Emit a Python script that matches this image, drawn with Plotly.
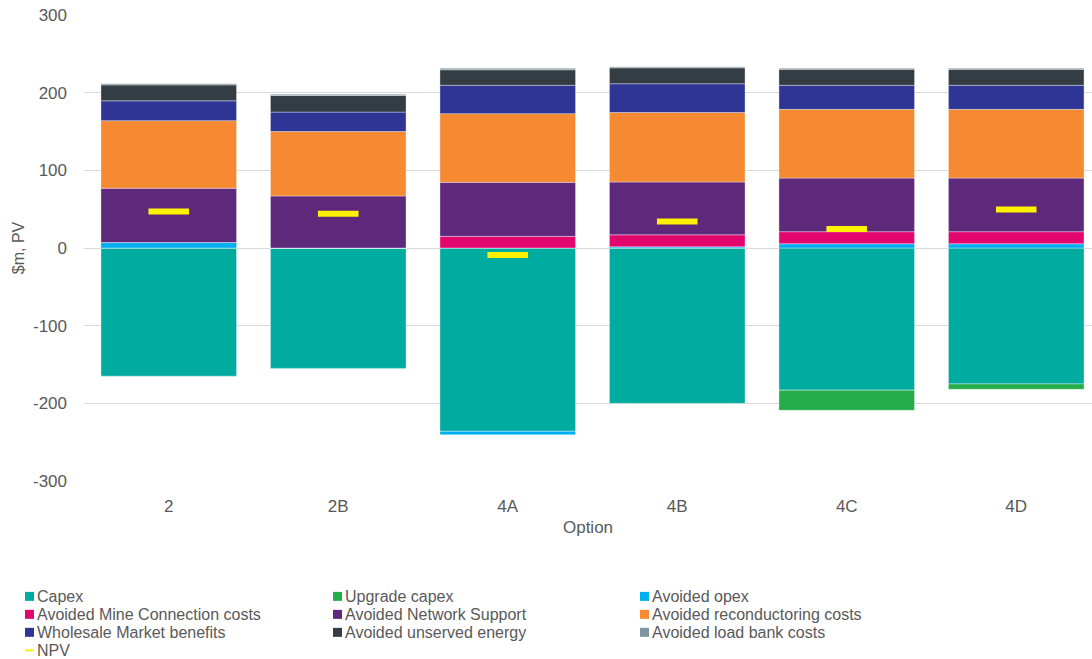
import plotly.graph_objects as go

options = ["2", "2B", "4A", "4B", "4C", "4D"]
capex = [-165, -155, -236, -200, -183, -175]
upgrade_capex = [0, 0, 0, 0, -26, -7]
avoided_opex = [7, 0, -4.5, 1.5, 5.5, 5.5]
mine_connection = [0, 0, 15, 15.5, 15.5, 15.5]
network_support = [70, 67, 69.5, 68, 69, 69]
reconductoring = [87, 83, 88.5, 89.5, 88.5, 88.5]
wholesale = [25.5, 25, 36.5, 37, 31, 31]
unserved_energy = [20.5, 21.5, 20, 20.5, 20.5, 20.5]
load_bank = [1.5, 1.5, 2, 1.5, 1.5, 1.5]
npv = [47, 44, -9, 34, 24.5, 49.5]

y_tick_values = [-300, -200, -100, 0, 100, 200, 300]
y_tick_labels = ["-300", "-200", "-100", "0", "100", "200", "300"]

series = [
    ("Capex", capex, "#00AC9F"),
    ("Upgrade capex", upgrade_capex, "#25AD4A"),
    ("Avoided opex", avoided_opex, "#00AEEF"),
    ("Avoided Mine Connection costs", mine_connection, "#E3066F"),
    ("Avoided Network Support", network_support, "#5E287B"),
    ("Avoided reconductoring costs", reconductoring, "#F58A32"),
    ("Wholesale Market benefits", wholesale, "#2E3595"),
    ("Avoided unserved energy", unserved_energy, "#333D43"),
    ("Avoided load bank costs", load_bank, "#7E95A0"),
]
npv_color = "#FFF200"

W, H = 1092, 659
ML, MR, MT, MB = 84, 0, 15, 177.5
PW, PH = W - ML - MR, H - MT - MB


def px_x(p):
    return (p - ML) / PW


def px_y(p):
    return (H - MB - p) / PH


fig = go.Figure()
for name, vals, col in series:
    fig.add_trace(go.Bar(
        x=options, y=vals, name=name,
        marker=dict(color=col, line=dict(color="rgba(255,255,255,0.45)", width=0.8)),
    ))

fig.add_trace(go.Scatter(
    x=options, y=npv, name="NPV", mode="markers",
    marker=dict(symbol="line-ew", size=29, color=npv_color,
                line=dict(color=npv_color, width=6)),
))

font_family = "Liberation Sans, Arial, sans-serif"
text_color = "#595959"

# manual legend laid out in three columns like the original
legend_items = [(name, col) for name, _, col in series] + [("NPV", npv_color)]
col_x = [25, 333, 640]
row_y = [597, 615, 633, 651]
shapes = []
annotations = []
for i, (name, col) in enumerate(legend_items):
    r, c = divmod(i, 3)
    sx, sy = col_x[c], row_y[r]
    if name == "NPV":
        shapes.append(dict(type="line", xref="paper", yref="paper",
                           x0=px_x(sx), x1=px_x(sx + 9), y0=px_y(sy), y1=px_y(sy),
                           line=dict(color=col, width=2)))
    else:
        shapes.append(dict(type="rect", xref="paper", yref="paper",
                           x0=px_x(sx), x1=px_x(sx + 9),
                           y0=px_y(sy + 4.5), y1=px_y(sy - 4.5),
                           fillcolor=col, line=dict(width=0)))
    annotations.append(dict(text=name, xref="paper", yref="paper",
                            x=px_x(sx + 10), y=px_y(sy), xanchor="left", yanchor="middle",
                            showarrow=False, font=dict(size=16, color=text_color, family=font_family)))

fig.update_layout(
    width=W, height=H,
    margin=dict(l=ML, r=MR, t=MT, b=MB),
    barmode="relative",
    bargap=0.2,
    plot_bgcolor="white",
    paper_bgcolor="white",
    font=dict(family=font_family, size=17, color=text_color),
    showlegend=False,
    shapes=shapes,
    annotations=annotations,
    xaxis=dict(
        range=[-0.5, 5.447],
        title=dict(text="Option", font=dict(size=17, color=text_color), standoff=6),
        showgrid=False, zeroline=False, showline=False,
        tickfont=dict(size=17, color=text_color),
        ticks="", ticklabelstandoff=13,
    ),
    yaxis=dict(
        range=[-300, 300],
        tickmode="array", tickvals=y_tick_values, ticktext=y_tick_labels,
        title=dict(text="$m, PV", font=dict(size=16, color=text_color), standoff=4),
        showgrid=True, gridcolor="#D9D9D9", gridwidth=1,
        zeroline=True, zerolinecolor="#D9D9D9", zerolinewidth=1,
        tickfont=dict(size=17, color=text_color),
        ticklabelstandoff=16,
    ),
)

fig.write_html("out.html",
               config={"displayModeBar": False},
               post_script="document.body.style.margin='0';document.body.style.overflow='hidden';")
